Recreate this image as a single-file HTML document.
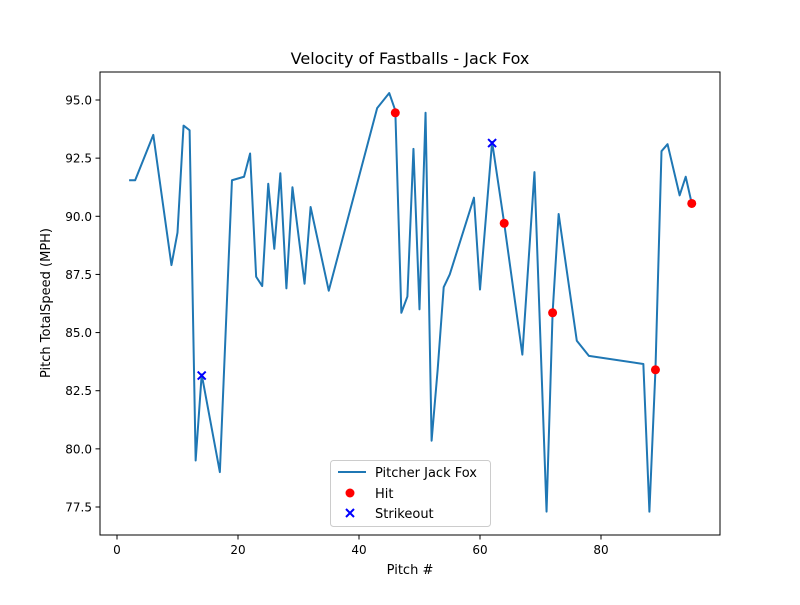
<!DOCTYPE html>
<html><head><meta charset="utf-8"><style>
body{margin:0;background:#fff;}
svg{font-family:"DejaVu Sans","Liberation Sans",sans-serif;}
</style></head><body>
<svg id="chart" width="800" height="600">
<rect width="800" height="600" fill="#fff"/>
<text x="410" y="64" font-size="16" text-anchor="middle">Velocity of Fastballs - Jack Fox</text>
<text x="410" y="574" font-size="13" text-anchor="middle">Pitch #</text>
<text transform="translate(50,303) rotate(-90)" font-size="13" text-anchor="middle">Pitch TotalSpeed (MPH)</text>
<g id="ticks"></g>
<g id="marks"></g>
<rect x="100" y="72" width="620" height="463" fill="none" stroke="#000" stroke-width="1"/>
<g>
<rect x="330.5" y="460.5" width="160" height="66" rx="3" fill="#fff" stroke="#ccc"/>
<line x1="338" y1="472" x2="366" y2="472" stroke="#1f77b4" stroke-width="2"/>
<text x="375" y="477" font-size="13">Pitcher Jack Fox</text>
<circle cx="350" cy="493" r="4.5" fill="#f00"/>
<text x="375" y="498" font-size="13">Hit</text>
<path d="M346,509 l8,8 M354,509 l-8,8" stroke="#00f" stroke-width="2"/>
<text x="375" y="518" font-size="13">Strikeout</text>
</g>
</svg>
<script>
const pitchNums=[2,3,6,9,10,11,12,13,14,17,19,21,22,23,24,25,26,27,28,29,31,32,35,43,45,46,47,48,49,50,51,52,53,54,55,59,60,62,64,67,69,71,72,73,76,78,87,88,89,90,91,93,94,95];
const speeds=[91.55,91.55,93.5,87.9,89.3,93.9,93.7,79.5,83.2,79.0,91.55,91.7,92.7,87.4,87.0,91.4,88.6,91.85,86.9,91.25,87.1,90.4,86.8,94.65,95.3,94.55,85.85,86.55,92.9,86.0,94.45,80.35,83.4,86.95,87.5,90.8,86.85,93.2,89.7,84.05,91.9,77.3,85.85,90.1,84.65,84.0,83.65,77.3,83.4,92.8,93.1,90.9,91.7,90.55];
const hitX=[46,64,72,89,95];
const hitY=[94.45,89.7,85.85,83.4,90.55];
const kX=[14,62];
const kY=[83.15,93.15];
const xTicks=[0,20,40,60,80];
const yTicks=[77.5,80.0,82.5,85.0,87.5,90.0,92.5,95.0];
const NS="http://www.w3.org/2000/svg";
const sx=v=>117+v*6.05;
const sy=v=>100+(95-v)*23.257;
const ticks=document.getElementById('ticks'),marks=document.getElementById('marks');
function mk(tag,attrs,parent){const e=document.createElementNS(NS,tag);for(const k in attrs)e.setAttribute(k,attrs[k]);parent.appendChild(e);return e;}
xTicks.forEach(t=>{
 const l=mk('line',{x1:sx(t),x2:sx(t),y1:535,y2:539.5,stroke:'#000'},ticks);
 
 
 const tx=mk('text',{x:sx(t),y:554,'font-size':12,'text-anchor':'middle'},ticks);
 tx.textContent=t;
 
 
});
yTicks.forEach(t=>{
 const l=mk('line',{x1:95.5,x2:100,y1:sy(t),y2:sy(t),stroke:'#000'},ticks);
 
 
 const tx=mk('text',{x:92,y:sy(t)+4.5,'font-size':12,'text-anchor':'end'},ticks);
 tx.textContent=t.toFixed(1);
 
 
});
const pl=mk('polyline',{points:pitchNums.map((x,i)=>sx(x)+','+sy(speeds[i])).join(' '),fill:'none',stroke:'#1f77b4','stroke-width':2,'stroke-linejoin':'round'},marks);


hitX.forEach((x,i)=>{
 const c=mk('circle',{cx:sx(x),cy:sy(hitY[i]),r:4.5,fill:'#f00'},marks);
 
 
});
kX.forEach((x,i)=>{
 const X=sx(x),Y=sy(kY[i]);
 const p=mk('path',{d:`M${X-4},${Y-4} L${X+4},${Y+4} M${X+4},${Y-4} L${X-4},${Y+4}`,stroke:'#00f','stroke-width':2},marks);
 
 
});
</script>
</body></html>
